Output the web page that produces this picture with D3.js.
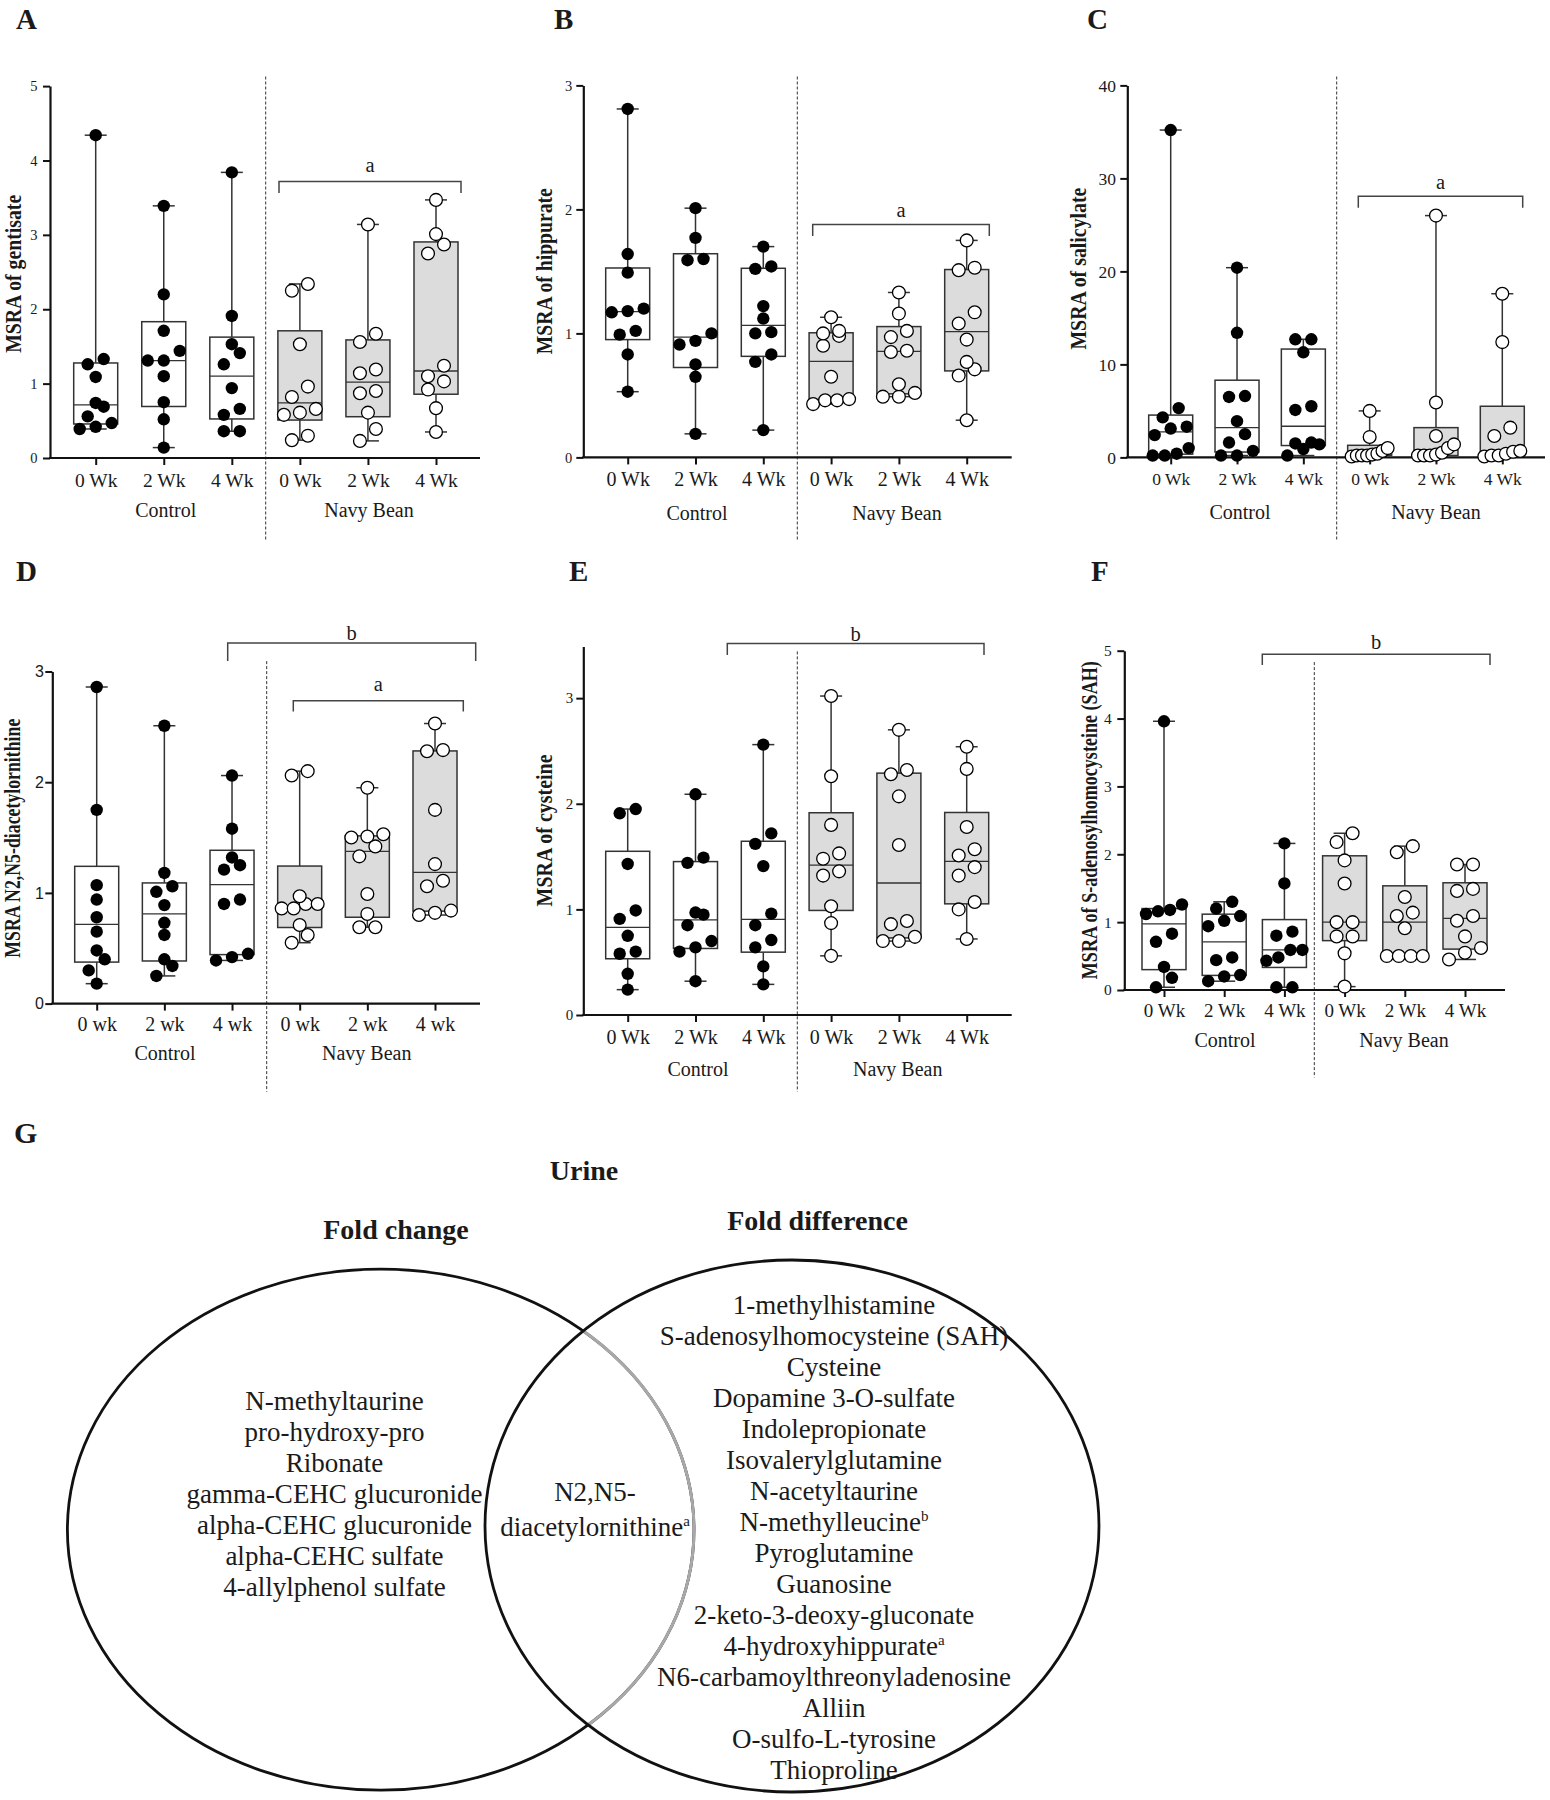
<!DOCTYPE html>
<html><head><meta charset="utf-8">
<script src="https://cdn.jsdelivr.net/npm/d3@7"></script>
<style>body{margin:0;background:#fff}svg{display:block}</style>
</head><body>
<svg id="fig" width="1550" height="1800"></svg>
<script>
// ===== DATA =====
const weekLabels = ["0 Wk","2 Wk","4 Wk","0 Wk","2 Wk","4 Wk"];
const weekLabelsLower = ["0 wk","2 wk","4 wk","0 wk","2 wk","4 wk"];
const groupNames = ["Control","Navy Bean"];
// groups: Control 0/2/4 Wk, Navy Bean 0/2/4 Wk
const gentisate = [
  [4.34,1.33,1.26,1.09,0.74,0.69,0.56,0.47,0.42,0.39],
  [3.39,2.20,1.71,1.44,1.31,1.31,1.10,0.75,0.52,0.14],
  [3.84,1.91,1.53,1.41,1.26,0.94,0.66,0.58,0.36,0.36],
  [2.34,2.25,1.53,0.96,0.82,0.66,0.61,0.58,0.30,0.24],
  [3.14,1.67,1.56,1.19,1.14,0.90,0.87,0.61,0.39,0.23],
  [3.47,3.01,2.87,2.75,1.24,1.10,1.03,0.92,0.67,0.35]];
const hippurate = [
  [2.81,1.64,1.49,1.20,1.18,1.17,1.02,0.99,0.83,0.53],
  [2.01,1.77,1.60,1.59,1.00,0.94,0.91,0.75,0.65,0.19],
  [1.70,1.54,1.52,1.22,1.12,1.01,1.00,0.83,0.77,0.22],
  [1.13,1.02,1.00,0.98,0.90,0.65,0.47,0.46,0.46,0.43],
  [1.33,1.16,1.02,0.97,0.86,0.85,0.59,0.52,0.49,0.49],
  [1.75,1.53,1.51,1.17,1.08,0.95,0.77,0.71,0.66,0.30]];
const salicylate = [
  [35.2,5.3,4.3,3.3,3.1,2.4,1.0,0.4,0.2,0.2],
  [20.4,13.4,6.6,6.5,3.9,2.5,1.6,0.7,0.2,0.2],
  [12.7,12.7,11.3,5.5,5.1,1.6,1.5,1.4,0.9,0.2],
  [5.0,2.2,1.0,0.7,0.4,0.3,0.2,0.2,0.2,0.1],
  [26.0,5.9,2.3,1.4,1.0,0.5,0.3,0.2,0.2,0.2],
  [17.6,12.4,3.2,2.3,0.7,0.6,0.4,0.2,0.2,0.1]];
const diacetylornithine = [
  [2.86,1.75,1.07,0.94,0.78,0.65,0.48,0.40,0.30,0.18],
  [2.51,1.18,1.06,1.01,0.89,0.73,0.62,0.40,0.34,0.25],
  [2.06,1.58,1.32,1.25,1.21,0.94,0.90,0.45,0.42,0.39],
  [2.10,2.06,0.97,0.90,0.90,0.86,0.86,0.71,0.62,0.55],
  [1.95,1.53,1.51,1.50,1.42,1.33,0.99,0.81,0.69,0.69],
  [2.53,2.29,2.28,1.75,1.26,1.11,1.06,0.84,0.82,0.80]];
const cysteine = [
  [1.95,1.91,1.43,0.99,0.91,0.75,0.60,0.58,0.39,0.24],
  [2.09,1.49,1.44,0.97,0.95,0.85,0.70,0.64,0.60,0.32],
  [2.56,1.72,1.62,1.41,0.96,0.85,0.71,0.64,0.46,0.29],
  [3.02,2.26,1.80,1.53,1.48,1.36,1.32,1.03,0.87,0.56],
  [2.70,2.32,2.28,2.07,1.61,0.89,0.86,0.74,0.70,0.70],
  [2.54,2.33,1.78,1.57,1.51,1.40,1.32,1.07,1.00,0.72]];
const sah = [
  [3.96,1.26,1.18,1.16,1.12,0.83,0.71,0.34,0.18,0.04],
  [1.30,1.20,1.09,1.02,0.94,0.48,0.44,0.22,0.20,0.13],
  [2.16,1.57,0.86,0.80,0.59,0.59,0.48,0.43,0.04,0.04],
  [2.31,2.18,1.91,1.57,1.00,1.00,0.79,0.79,0.54,0.05],
  [2.12,2.03,1.37,1.14,1.09,0.91,0.50,0.50,0.50,0.50],
  [1.85,1.85,1.49,1.46,1.09,1.02,0.79,0.62,0.55,0.45]];
const yTicksA = [0,1,2,3,4,5];
const yTicksB = [0,1,2,3];
const yTicksC = [0,10,20,30,40];
const yTicksD = [0,1,2,3];
const yTicksE = [0,1,2,3];
const yTicksF = [0,1,2,3,4,5];

// Venn
const vennTitle = "Urine";
const vennSetNames = ["Fold change","Fold difference"];
const foldChangeOnly = ["N-methyltaurine","pro-hydroxy-pro","Ribonate","gamma-CEHC glucuronide",
  "alpha-CEHC glucuronide","alpha-CEHC sulfate","4-allylphenol sulfate"];
const sharedItems = [{t:"N2,N5-"},{t:"diacetylornithine",sup:"a"}];
const foldDiffOnly = [{t:"1-methylhistamine"},{t:"S-adenosylhomocysteine (SAH)"},{t:"Cysteine"},
  {t:"Dopamine 3-O-sulfate"},{t:"Indolepropionate"},{t:"Isovalerylglutamine"},{t:"N-acetyltaurine"},
  {t:"N-methylleucine",sup:"b"},{t:"Pyroglutamine"},{t:"Guanosine"},{t:"2-keto-3-deoxy-gluconate"},
  {t:"4-hydroxyhippurate",sup:"a"},{t:"N6-carbamoylthreonyladenosine"},{t:"Alliin"},
  {t:"O-sulfo-L-tyrosine"},{t:"Thioproline"}];

// ===== DRAWING =====
const SERIF = '"Liberation Serif","Times New Roman",Times,serif';
const SANS = '"Liberation Sans",Arial,sans-serif';
const svg = d3.select('#fig');

function gpQuantile(s, q){
  const n = s.length; let pos = q*(n+1);
  if (pos < 1) pos = 1; if (pos > n) pos = n;
  const lo = Math.floor(pos), f = pos - lo;
  if (lo >= n) return s[n-1];
  return s[lo-1] + f*(s[lo]-s[lo-1]);
}
function swarm(vals, y, d, binH, maxHalf){
  const pts = vals.map(v => ({v, py:y(v)})).sort((a,b)=>b.py-a.py);
  const bins = []; let cur = null;
  pts.forEach(p => {
    if (cur && Math.abs(p.py - cur[0].py) < binH) cur.push(p);
    else { cur=[p]; bins.push(cur); }
  });
  bins.forEach(b => {
    const k = b.length, s = k>1 ? Math.min(d, 2*maxHalf/(k-1)) : 0;
    b.forEach((p,i)=> p.dx = (i-(k-1)/2)*s);
  });
  return pts;
}

const panels = [
 {id:'A', data:gentisate, labels:weekLabels, ax:50, xEnd:480, y0:458.0, yTop:86.1, ymax:5, yticks:yTicksA,
  cats:[95.7,436], dashX:265.7, dash:[76.5,540.4], tickBase:486.6, tickFs:19.5, groupBase:516.6, ctrlX:165.7, navyX:369,
  ylab:"MSRA of gentisate", ylabX:20.5, ylabY:273.8, ylabLen:158, yFs:14.5, yPad:5.5, yFam:SERIF,
  letterX:16, letterY:29.3, brackets:[{x1:279,x2:461,y:181.5,h:11.4,t:'a',tb:171.5}]},
 {id:'B', data:hippurate, labels:weekLabels, ax:583.3, xEnd:1011.7, y0:457.4, yTop:85.4, ymax:3, yticks:yTicksB,
  cats:[627.7,966.7], dashX:797.3, dash:[76.5,540.4], tickBase:485.6, tickFs:20, groupBase:519.7, ctrlX:697, navyX:897,
  ylab:"MSRA of hippurate", ylabX:552, ylabY:271.2, ylabLen:166, yFs:14.5, yPad:4, yFam:SERIF,
  letterX:554, letterY:29.3, brackets:[{x1:812.7,x2:989.3,y:224.5,h:11.4,t:'a',tb:216.5}]},
 {id:'C', data:salicylate, labels:weekLabels, ax:1127.3, xEnd:1545, y0:457.4, yTop:85.4, ymax:40, yticks:yTicksC,
  cats:[1170.7,1502.3], dashX:1336.7, dash:[76.5,540.4], tickBase:484.6, tickFs:17.5, groupBase:518.7, ctrlX:1240, navyX:1436,
  ylab:"MSRA of salicylate", ylabX:1086, ylabY:268.6, ylabLen:162, yFs:17.5, yPad:4.3, yFam:SERIF,
  letterX:1087, letterY:29.3, brackets:[{x1:1358.3,x2:1522.7,y:196.3,h:11.4,t:'a',tb:189.1}]},
 {id:'D', data:diacetylornithine, labels:weekLabelsLower, ax:52.3, xEnd:480, y0:1003.6, yTop:671.5, ymax:3, yticks:yTicksD,
  cats:[96.7,435], dashX:266.7, dash:[661.1,1091.8], tickBase:1031.2, tickFs:20, groupBase:1059.6, ctrlX:165, navyX:366.7,
  ylab:"MSRA N2,N5-diacetylornithine", ylabX:19.5, ylabY:838.2, ylabLen:239, yFs:16, yPad:1.5, yFam:SANS,
  letterX:16, letterY:580.7, brackets:[{x1:227.7,x2:475.7,y:642.9,h:18.2,t:'b',tb:639.6},{x1:293.3,x2:463.3,y:700.7,h:10.7,t:'a',tb:691.1}]},
 {id:'E', data:cysteine, labels:weekLabels, ax:583.3, xEnd:1011.7, y0:1015.0, yTop:646.4, ymax:3.49, yticks:yTicksE,
  cats:[627.7,966.7], dashX:797.3, dash:[651.4,1091.8], tickBase:1043.6, tickFs:20, groupBase:1075.7, ctrlX:698, navyX:897.7,
  ylab:"MSRA of cysteine", ylabX:552, ylabY:830.4, ylabLen:152, yFs:15, yPad:3, yFam:SERIF,
  letterX:569, letterY:580.7, brackets:[{x1:727.3,x2:984,y:643.6,h:11.4,t:'b',tb:640.7}]},
 {id:'F', data:sah, labels:weekLabels, ax:1124.3, xEnd:1505, y0:990.0, yTop:650.7, ymax:5, yticks:yTicksF,
  cats:[1164,1465], dashX:1314.3, dash:[662.1,1077.5], tickBase:1017.3, tickFs:19, groupBase:1046.8, ctrlX:1225, navyX:1404,
  ylab:"MSRA of S-adenosylhomocysteine (SAH)", ylabX:1097, ylabY:820.2, ylabLen:318, yFs:15.5, yPad:5.6, yFam:SERIF,
  letterX:1091, letterY:580.7, brackets:[{x1:1262.3,x2:1490,y:654.3,h:10.7,t:'b',tb:649.3}]}
];

function drawPanel(c){
  const g = svg.append('g');
  const y = d3.scaleLinear().domain([0,c.ymax]).range([c.y0,c.yTop]);
  const x = d3.scalePoint().domain(d3.range(6)).range(c.cats);

  g.append('text').attr('x',c.letterX).attr('y',c.letterY).text(c.id)
    .attr('font-family',SERIF).attr('font-weight','bold').attr('font-size',29).attr('fill','#1a1a1a');

  g.append('line').attr('x1',c.dashX).attr('x2',c.dashX).attr('y1',c.dash[0]).attr('y2',c.dash[1])
    .attr('stroke','#333').attr('stroke-width',1).attr('stroke-dasharray','3,2');

  c.brackets.forEach(b=>{
    g.append('path').attr('d',`M${b.x1},${b.y+b.h}V${b.y}H${b.x2}V${b.y+b.h}`)
      .attr('fill','none').attr('stroke','#444').attr('stroke-width',1.5);
    g.append('text').attr('x',(b.x1+b.x2)/2).attr('y',b.tb).text(b.t).attr('text-anchor','middle')
      .attr('font-family',SERIF).attr('font-size',20.5).attr('fill','#1a1a1a');
  });

  const ya = g.append('g').attr('transform',`translate(${c.ax},0)`)
    .call(d3.axisLeft(y).tickValues(c.yticks).tickSize(7).tickSizeOuter(0).tickPadding(c.yPad).tickFormat(d3.format('d')));
  ya.select('.domain').attr('stroke','#111').attr('stroke-width',2.2);
  ya.selectAll('.tick line').attr('stroke','#111').attr('stroke-width',2);
  ya.selectAll('.tick text').attr('font-family',c.yFam).attr('font-size',c.yFs).attr('fill','#1a1a1a');

  const pad = c.tickBase - c.y0 - 7 - 0.71*c.tickFs;
  const xa = g.append('g').attr('transform',`translate(0,${c.y0})`)
    .call(d3.axisBottom(x).tickSize(7).tickSizeOuter(0).tickPadding(pad).tickFormat(i=>c.labels[i]));
  xa.select('.domain').remove();
  xa.append('line').attr('x1',c.ax-1).attr('x2',c.xEnd).attr('y1',0).attr('y2',0)
    .attr('stroke','#111').attr('stroke-width',2.2);
  xa.selectAll('.tick line').attr('stroke','#111').attr('stroke-width',2);
  xa.selectAll('.tick text').attr('font-family',SERIF).attr('font-size',c.tickFs).attr('fill','#1a1a1a');

  [[c.ctrlX,groupNames[0]],[c.navyX,groupNames[1]]].forEach(([gx,t])=>{
    g.append('text').attr('x',gx).attr('y',c.groupBase).text(t).attr('text-anchor','middle')
      .attr('font-family',SERIF).attr('font-size',20).attr('fill','#1a1a1a');
  });

  g.append('text').attr('transform',`translate(${c.ylabX},${c.ylabY}) rotate(-90)`)
    .attr('text-anchor','middle').text(c.ylab)
    .attr('textLength',c.ylabLen).attr('lengthAdjust','spacingAndGlyphs')
    .attr('font-family',SERIF).attr('font-weight','bold').attr('font-size',23).attr('fill','#1a1a1a');

  const bw = 44, cw = 22;
  c.data.forEach((vals,i)=>{
    const s = vals.slice().sort((a,b)=>a-b);
    const mn = s[0], mx = s[s.length-1];
    const q1 = gpQuantile(s,0.25), md = gpQuantile(s,0.5), q3 = gpQuantile(s,0.75);
    const cx = x(i), navy = i>=3;
    const bg = g.append('g');
    bg.append('line').attr('x1',cx).attr('x2',cx).attr('y1',y(mx)).attr('y2',y(q3)).attr('stroke','#333').attr('stroke-width',1.5);
    bg.append('line').attr('x1',cx).attr('x2',cx).attr('y1',y(q1)).attr('y2',y(mn)).attr('stroke','#333').attr('stroke-width',1.5);
    [mn,mx].forEach(v=> bg.append('line').attr('x1',cx-cw/2).attr('x2',cx+cw/2).attr('y1',y(v)).attr('y2',y(v))
      .attr('stroke','#333').attr('stroke-width',1.5));
    bg.append('rect').attr('x',cx-bw/2).attr('width',bw).attr('y',y(q3)).attr('height',Math.max(0.5,y(q1)-y(q3)))
      .attr('fill',navy?'#dcdcdc':'#fff').attr('stroke','#333').attr('stroke-width',1.5);
    bg.append('line').attr('x1',cx-bw/2).attr('x2',cx+bw/2).attr('y1',y(md)).attr('y2',y(md)).attr('stroke','#333').attr('stroke-width',1.3);
    const pts = swarm(vals,y,16,12,18);
    bg.selectAll('circle').data(pts).join('circle')
      .attr('cx',p=>cx+p.dx).attr('cy',p=>p.py).attr('r',navy?6.4:6.2)
      .attr('fill',navy?'#fff':'#000').attr('stroke','#000').attr('stroke-width',navy?1.3:0);
  });
}
panels.forEach(drawPanel);

// ===== Venn (G) =====
const vg = svg.append('g');
vg.append('text').attr('x',14).attr('y',1143).text('G').attr('font-family',SERIF).attr('font-weight','bold')
  .attr('font-size',30).attr('fill','#1a1a1a');
const EL = {cx:380.7, cy:1529.7, rx:313.3, ry:260.5};
const ER = {cx:792, cy:1526, rx:307, ry:266};
vg.append('defs').append('clipPath').attr('id','clipR').append('ellipse')
  .attr('cx',ER.cx).attr('cy',ER.cy).attr('rx',ER.rx).attr('ry',ER.ry);
vg.append('ellipse').attr('cx',EL.cx).attr('cy',EL.cy).attr('rx',EL.rx).attr('ry',EL.ry)
  .attr('fill','none').attr('stroke','#111').attr('stroke-width',2.8);
vg.append('ellipse').attr('cx',EL.cx).attr('cy',EL.cy).attr('rx',EL.rx).attr('ry',EL.ry)
  .attr('fill','none').attr('stroke','#a8a8a8').attr('stroke-width',3).attr('clip-path','url(#clipR)');
vg.append('ellipse').attr('cx',ER.cx).attr('cy',ER.cy).attr('rx',ER.rx).attr('ry',ER.ry)
  .attr('fill','none').attr('stroke','#111').attr('stroke-width',2.8);

const headStyle = s => s.attr('font-family',SERIF).attr('font-weight','bold').attr('font-size',28)
  .attr('text-anchor','middle').attr('fill','#1a1a1a');
vg.append('text').attr('x',584).attr('y',1180).text(vennTitle).call(headStyle);
vg.append('text').attr('x',396).attr('y',1239).text(vennSetNames[0]).call(headStyle);
vg.append('text').attr('x',817.5).attr('y',1230).text(vennSetNames[1]).call(headStyle);

function listText(items, cx, base0, step){
  items.forEach((it,i)=>{
    const o = typeof it === 'string' ? {t:it} : it;
    const t = vg.append('text').attr('x',cx).attr('y',base0+i*step).attr('text-anchor','middle')
      .attr('font-family',SERIF).attr('font-size',27).attr('fill','#1a1a1a');
    t.append('tspan').text(o.t);
    if (o.sup) t.append('tspan').text(o.sup).attr('font-size',15).attr('dy',-10);
  });
}
listText(foldChangeOnly, 334.5, 1409.5, 31);
listText(sharedItems, 595, 1501, 35);
listText(foldDiffOnly, 834, 1313.5, 31.05);
</script>
</body></html>
